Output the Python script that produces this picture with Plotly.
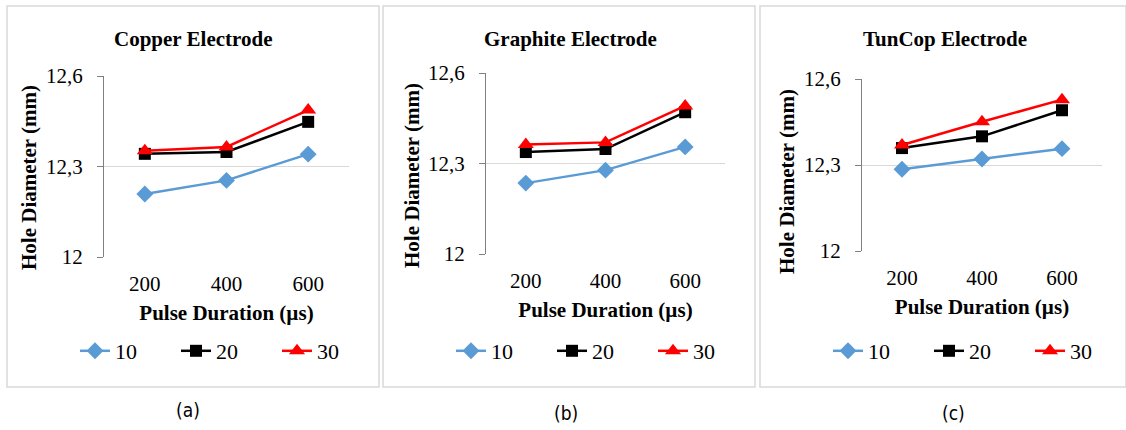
import plotly.graph_objects as go

pulse = ["200", "400", "600"]
series_names = ["10", "20", "30"]
titles = ["Copper Electrode", "Graphite Electrode", "TunCop Electrode"]
captions = ["(a)", "(b)", "(c)"]
x_title = "Pulse Duration (µs)"
y_title = "Hole Diameter (mm)"

copper = {"10": [12.209, 12.254, 12.341],
          "20": [12.342, 12.348, 12.448],
          "30": [12.352, 12.365, 12.487]}
graphite = {"10": [12.235, 12.278, 12.355],
            "20": [12.338, 12.348, 12.470],
            "30": [12.363, 12.370, 12.491]}
tuncop = {"10": [12.285, 12.321, 12.357],
          "20": [12.359, 12.400, 12.491],
          "30": [12.370, 12.451, 12.528]}
datasets = [copper, graphite, tuncop]

y_ticks = [12, 12.3, 12.6]
y_tick_text = ["12", "12,3", "12,6"]

colors = {"10": "#5B9BD5", "20": "#000000", "30": "#FF0000"}
symbols = {"10": "diamond", "20": "square", "30": "triangle-up"}
msize = {"10": 13, "20": 12, "30": 14}

W, H = 1126, 430
# plot areas in pixels: (x0, x1, ytop, ybottom)
areas = [(104, 349, 76, 257), (486, 725, 73, 254), (862, 1102, 79, 251)]
boxes = [(7, 379, 6, 387), (383, 755, 6, 387), (760, 1126, 6, 387)]
title_x = [193, 570, 945]
ytitle_pos = [(29, 178), (412, 176), (787, 182)]
cap_x = [188, 566, 953]
cap_y = [410, 413, 413]

serif = "Liberation Serif, Times New Roman, serif"

fig = go.Figure()
layout = dict(width=W, height=H, margin=dict(l=0, r=0, t=0, b=0, autoexpand=False),
              paper_bgcolor="white", plot_bgcolor="white",
              separators=",.", shapes=[], annotations=[])

for i, (data, area) in enumerate(zip(datasets, areas)):
    n = "" if i == 0 else str(i + 1)
    xa, ya = "x" + n, "y" + n
    lg = "legend" + n
    for s in series_names:
        fig.add_trace(go.Scatter(
            x=pulse, y=data[s], name=s, xaxis=xa, yaxis=ya, legend=lg,
            mode="lines+markers",
            line=dict(color=colors[s], width=2.5),
            marker=dict(symbol=symbols[s], size=msize[s], color=colors[s]),
            showlegend=True))
    x0, x1, yt, yb = area
    layout["xaxis" + n] = dict(
        domain=[x0 / W, x1 / W], anchor=ya, type="category", range=[-0.5, 2.5],
        automargin=False,
        showgrid=False, zeroline=False, showline=False, ticks="",
        ticklabelstandoff=12,
        tickfont=dict(family=serif, size=21, color="#000"),
        title=dict(text="<b>" + x_title + "</b>",
                   font=dict(family=serif, size=21, color="#000"), standoff=10),
        fixedrange=True)
    layout["yaxis" + n] = dict(
        domain=[1 - yb / H, 1 - yt / H], anchor=xa, range=[12, 12.6],
        automargin=False,
        tickvals=y_ticks, ticktext=y_tick_text,
        showgrid=True, gridcolor="#D9D9D9", gridwidth=1,
        zeroline=False, showline=True, linecolor="#808080", linewidth=1,
        ticks="outside", ticklen=6, tickcolor="#808080",
        ticklabelstandoff=10,
        tickfont=dict(family=serif, size=21, color="#000"),
        fixedrange=True)
    bx0, bx1, by0, by1 = boxes[i]
    layout["shapes"].append(dict(type="rect", xref="paper", yref="paper",
                                 x0=bx0 / W, x1=bx1 / W, y0=1 - by1 / H, y1=1 - by0 / H,
                                 line=dict(color="#D9D9D9", width=1.5)))
    layout["annotations"].append(dict(
        text="<b>" + titles[i] + "</b>", xref="paper", yref="paper",
        x=title_x[i] / W, y=1 - 39 / H, showarrow=False,
        xanchor="center", yanchor="middle",
        font=dict(family=serif, size=21, color="#000")))
    tx, ty = ytitle_pos[i]
    layout["annotations"].append(dict(
        text="<b>" + y_title + "</b>", xref="paper", yref="paper",
        x=tx / W, y=1 - ty / H, showarrow=False, textangle=-90,
        xanchor="center", yanchor="middle",
        font=dict(family=serif, size=21, color="#000")))
    layout["annotations"].append(dict(
        text=captions[i], xref="paper", yref="paper",
        x=cap_x[i] / W, y=1 - cap_y[i] / H, showarrow=False,
        xanchor="center", yanchor="middle",
        font=dict(family="DejaVu Sans Condensed, Liberation Sans Narrow, sans-serif",
                  size=19, color="#000")))
    layout[lg] = dict(orientation="h", x=(bx0 + 68) / W, y=1 - 351 / H,
                      xanchor="left", yanchor="middle",
                      entrywidth=56, entrywidthmode="pixels",
                      font=dict(family=serif, size=22, color="#000"),
                      bgcolor="rgba(0,0,0,0)", itemclick=False, itemdoubleclick=False)

fig.update_layout(**layout)
fig.write_html("out.html")
